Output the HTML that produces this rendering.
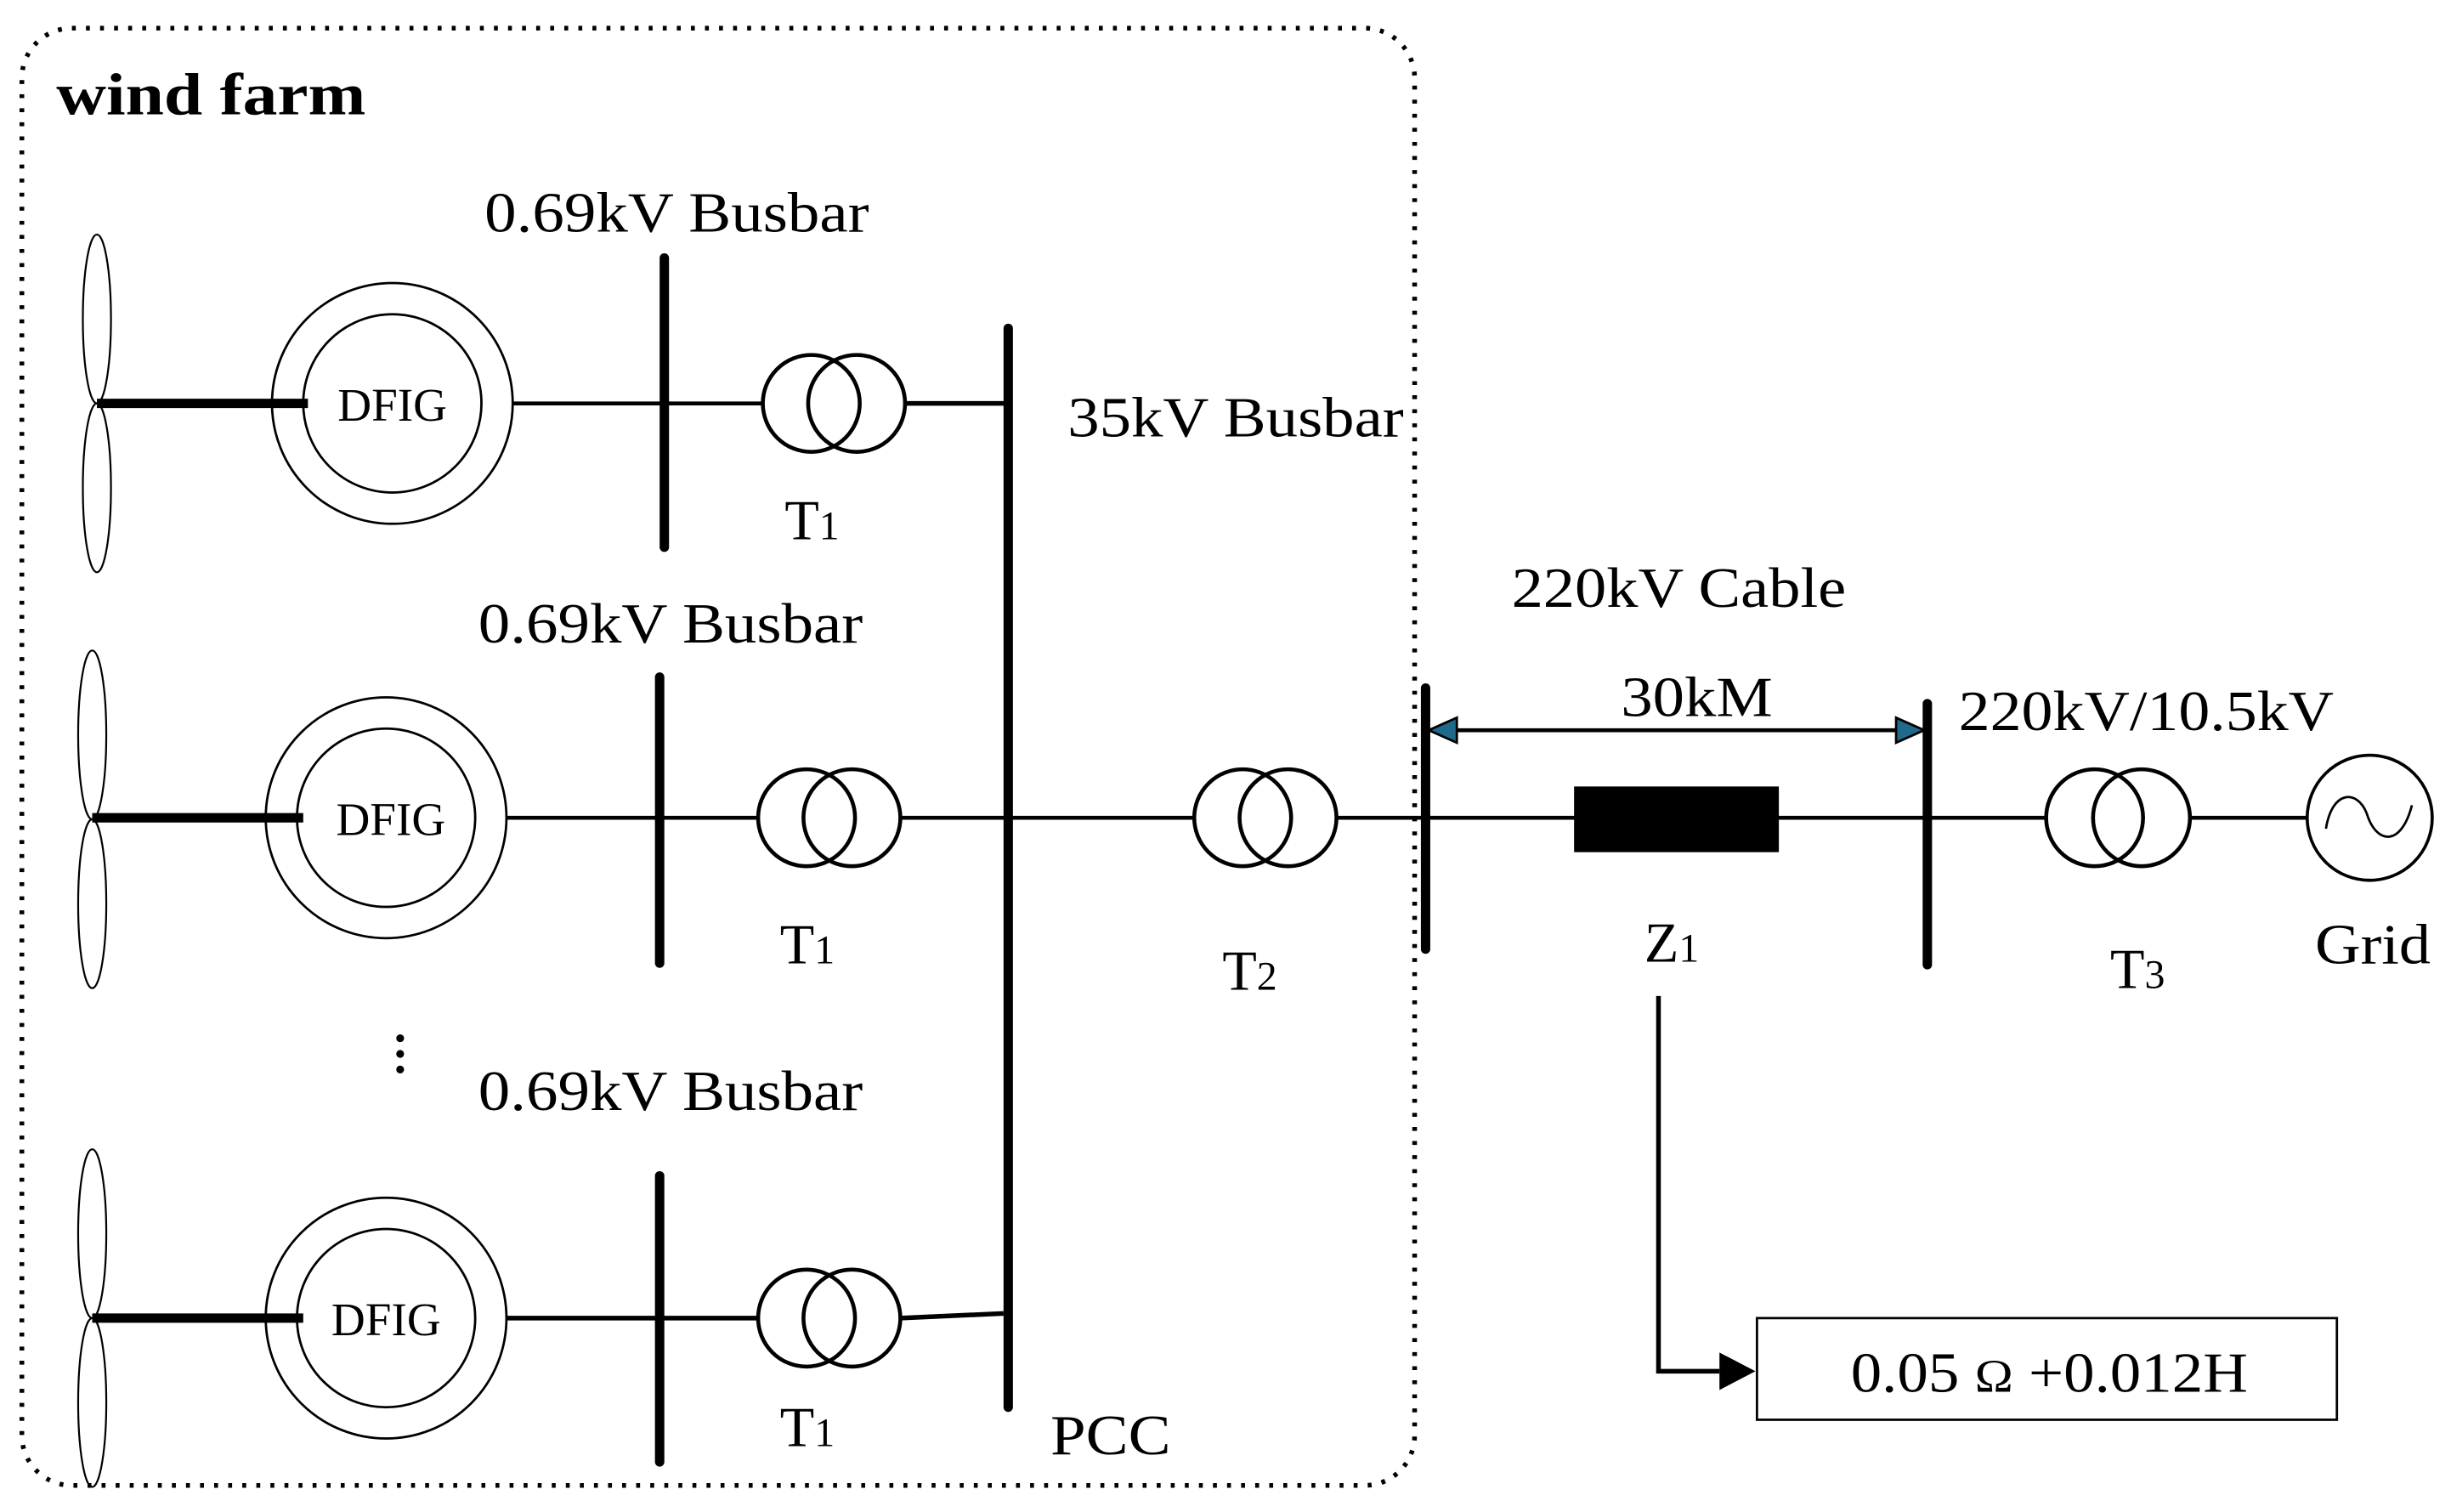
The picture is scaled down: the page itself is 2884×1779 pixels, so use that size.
<!DOCTYPE html>
<html><head><meta charset="utf-8"><style>html,body{margin:0;padding:0;background:#fff}svg{display:block}</style></head>
<body>
<svg width="2884" height="1779" viewBox="0 0 1568 967" preserveAspectRatio="none" xmlns="http://www.w3.org/2000/svg" font-family="Liberation Serif, serif">
<rect x="14" y="18" width="891" height="932" rx="32" fill="none" stroke="#000" stroke-width="3" stroke-dasharray="2.5 6.5"/>
<text x="36" y="73" font-size="38" font-weight="bold" textLength="198" lengthAdjust="spacingAndGlyphs">wind farm</text>
<g fill="none" stroke="#000">
<ellipse cx="62" cy="204" rx="9" ry="54" stroke-width="1.2"/>
<ellipse cx="62" cy="312" rx="9" ry="54" stroke-width="1.2"/>
<line x1="62" y1="258" x2="197" y2="258" stroke-width="6"/>
<circle cx="251" cy="258" r="77" stroke-width="1.5"/>
<circle cx="251" cy="258" r="57" stroke-width="1.5"/>
<line x1="328" y1="258" x2="489" y2="258" stroke-width="2.5"/>
<line x1="579" y1="258" x2="645" y2="258" stroke-width="3"/>
<line x1="425" y1="165" x2="425" y2="350" stroke-width="6" stroke-linecap="round"/>
<circle cx="519" cy="258" r="31" stroke-width="2.5"/>
<circle cx="548" cy="258" r="31" stroke-width="2.5"/>
<ellipse cx="59" cy="470" rx="9" ry="54" stroke-width="1.2"/>
<ellipse cx="59" cy="578" rx="9" ry="54" stroke-width="1.2"/>
<line x1="59" y1="523" x2="194" y2="523" stroke-width="6"/>
<circle cx="247" cy="523" r="77" stroke-width="1.5"/>
<circle cx="247" cy="523" r="57" stroke-width="1.5"/>
<line x1="324" y1="523" x2="486" y2="523" stroke-width="2.5"/>
<line x1="576" y1="523" x2="764" y2="523" stroke-width="2.5"/>
<line x1="422" y1="433" x2="422" y2="616" stroke-width="6" stroke-linecap="round"/>
<circle cx="516" cy="523" r="31" stroke-width="2.5"/>
<circle cx="545" cy="523" r="31" stroke-width="2.5"/>
<ellipse cx="59" cy="789" rx="9" ry="54" stroke-width="1.2"/>
<ellipse cx="59" cy="897" rx="9" ry="54" stroke-width="1.2"/>
<line x1="59" y1="843" x2="194" y2="843" stroke-width="6"/>
<circle cx="247" cy="843" r="77" stroke-width="1.5"/>
<circle cx="247" cy="843" r="57" stroke-width="1.5"/>
<line x1="324" y1="843" x2="486" y2="843" stroke-width="3"/>
<line x1="576" y1="843" x2="642" y2="840" stroke-width="3"/>
<line x1="422" y1="752" x2="422" y2="935" stroke-width="6" stroke-linecap="round"/>
<circle cx="516" cy="843" r="31" stroke-width="2.5"/>
<circle cx="545" cy="843" r="31" stroke-width="2.5"/>
<line x1="645" y1="210" x2="645" y2="900" stroke-width="6" stroke-linecap="round"/>
<circle cx="795" cy="523" r="31" stroke-width="2.5"/>
<circle cx="824" cy="523" r="31" stroke-width="2.5"/>
<line x1="855" y1="523" x2="1310" y2="523" stroke-width="2.5"/>
<line x1="1400" y1="523" x2="1476" y2="523" stroke-width="2.5"/>
<line x1="912" y1="440" x2="912" y2="607" stroke-width="6" stroke-linecap="round"/>
<line x1="1233" y1="450" x2="1233" y2="617" stroke-width="6" stroke-linecap="round"/>
<line x1="925" y1="467" x2="1220" y2="467" stroke-width="2.5"/>
<circle cx="1340" cy="523" r="31" stroke-width="2.5"/>
<circle cx="1370" cy="523" r="31" stroke-width="2.5"/>
<circle cx="1516" cy="523" r="40" stroke-width="2"/>
<path d="M1488 530 C1492 505,1508 505,1514 520 C1520 540,1536 542,1543 515" stroke-width="1.5"/>
<polyline points="1061,637 1061,877 1100,877" stroke-width="3"/>
<rect x="1124" y="843" width="371" height="65" stroke-width="1.5"/>
</g>
<polygon points="914,467 932,459 932,475" fill="#1f6a8a" stroke="#000" stroke-width="1.5"/>
<polygon points="1231,467 1213,459 1213,475" fill="#1f6a8a" stroke="#000" stroke-width="1.5"/>
<polygon points="1123,877 1100,865 1100,889" fill="#000"/>
<rect x="1007" y="503" width="131" height="42" fill="#000"/>
<circle cx="256" cy="664" r="2.5" fill="#000"/>
<circle cx="256" cy="674" r="2.5" fill="#000"/>
<circle cx="256" cy="684" r="2.5" fill="#000"/>
<g font-size="36" fill="#000">
<text x="310" y="148" textLength="246" lengthAdjust="spacingAndGlyphs">0.69kV Busbar</text>
<text x="306" y="411" textLength="246" lengthAdjust="spacingAndGlyphs">0.69kV Busbar</text>
<text x="306" y="710" textLength="246" lengthAdjust="spacingAndGlyphs">0.69kV Busbar</text>
<text x="683" y="279" textLength="215" lengthAdjust="spacingAndGlyphs">35kV Busbar</text>
<text x="672" y="930" textLength="77" lengthAdjust="spacingAndGlyphs">PCC</text>
<text x="967" y="388" textLength="214" lengthAdjust="spacingAndGlyphs">220kV Cable</text>
<text x="1037" y="458" textLength="97" lengthAdjust="spacingAndGlyphs">30kM</text>
<text x="1253" y="467" textLength="240" lengthAdjust="spacingAndGlyphs">220kV/10.5kV</text>
<text x="1481" y="616" textLength="74" lengthAdjust="spacingAndGlyphs">Grid</text>
<text x="502" y="345">T<tspan font-size="26">1</tspan></text>
<text x="499" y="616">T<tspan font-size="26">1</tspan></text>
<text x="499" y="925">T<tspan font-size="26">1</tspan></text>
<text x="782" y="633">T<tspan font-size="26">2</tspan></text>
<text x="1052" y="615">Z<tspan font-size="26">1</tspan></text>
<text x="1350" y="632">T<tspan font-size="26">3</tspan></text>
<text x="1184" y="890" textLength="254" lengthAdjust="spacingAndGlyphs">0.05 <tspan font-size="30">Ω</tspan> +0.012H</text>
</g>
<g font-size="30" fill="#000" text-anchor="middle">
<text x="251" y="269">DFIG</text>
<text x="250" y="534">DFIG</text>
<text x="247" y="854">DFIG</text>
</g>
</svg>
</body></html>
